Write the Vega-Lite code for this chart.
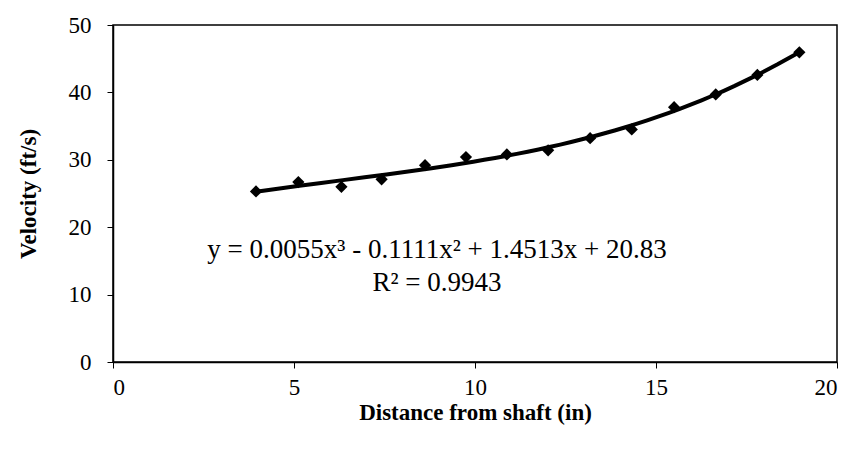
{
  "$schema": "https://vega.github.io/schema/vega-lite/v6.json",
  "width": 724,
  "height": 337,
  "autosize": {"type": "none"},
  "padding": {"left": 113, "top": 25, "right": 16, "bottom": 98},
  "background": "white",
  "config": {
    "view": {"stroke": "black", "strokeWidth": 1.5},
    "font": "Liberation Serif",
    "axis": {
      "grid": false,
      "domainColor": "black",
      "domainWidth": 1.5,
      "tickColor": "black",
      "tickWidth": 1,
      "tickSize": 6,
      "labelFont": "Liberation Serif",
      "labelFontSize": 23,
      "labelColor": "black",
      "titleFont": "Liberation Serif",
      "titleFontSize": 23,
      "titleFontWeight": "bold",
      "titleColor": "black"
    }
  },
  "data": {
    "values": [
      {"x": 3.95, "v": 25.3},
      {"x": 5.12, "v": 26.7},
      {"x": 6.31, "v": 26.0},
      {"x": 7.42, "v": 27.1},
      {"x": 8.62, "v": 29.2},
      {"x": 9.75, "v": 30.4},
      {"x": 10.88, "v": 30.8},
      {"x": 12.02, "v": 31.4},
      {"x": 13.18, "v": 33.2},
      {"x": 14.33, "v": 34.5},
      {"x": 15.5, "v": 37.8},
      {"x": 16.65, "v": 39.7},
      {"x": 17.8, "v": 42.6},
      {"x": 18.96, "v": 45.95}
    ]
  },
  "encoding": {
    "x": {
      "field": "x",
      "type": "quantitative",
      "scale": {"domain": [0, 20], "nice": false},
      "axis": {"values": [0, 5, 10, 15, 20], "title": "Distance from shaft (in)", "labelPadding": 8, "titlePadding": 2}
    },
    "y": {
      "field": "v",
      "type": "quantitative",
      "scale": {"domain": [0, 50], "nice": false},
      "axis": {"values": [0, 10, 20, 30, 40, 50], "title": "Velocity (ft/s)", "labelPadding": 16, "titlePadding": 28}
    }
  },
  "layer": [
    {
      "transform": [{"regression": "v", "on": "x", "method": "poly", "order": 3}],
      "mark": {"type": "line", "color": "black", "strokeWidth": 4}
    },
    {
      "mark": {"type": "point", "shape": "diamond", "filled": true, "color": "black", "opacity": 1, "size": 150}
    },
    {
      "data": {
        "values": [
          {"x": 8.95, "v": 15.4, "label": "y = 0.0055x³ - 0.1111x² + 1.4513x + 20.83"},
          {"x": 8.95, "v": 10.6, "label": "R² = 0.9943"}
        ]
      },
      "mark": {"type": "text", "font": "Liberation Serif", "fontSize": 27, "color": "black", "align": "center", "baseline": "alphabetic"},
      "encoding": {"text": {"field": "label"}}
    }
  ]
}
